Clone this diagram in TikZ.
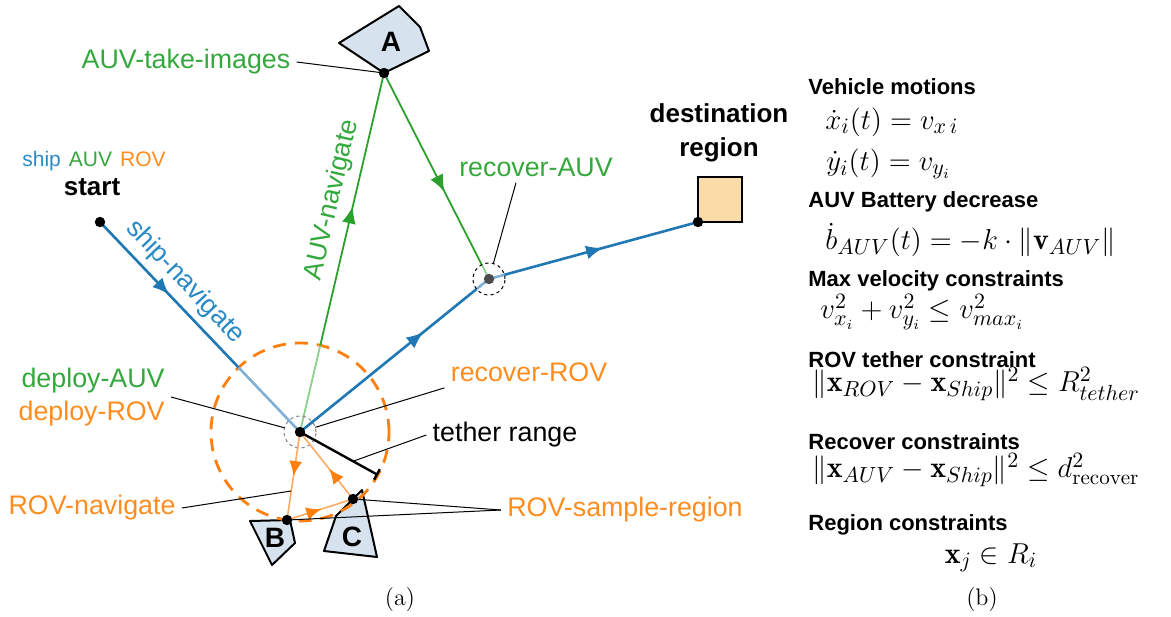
\documentclass[tikz,border=0pt]{standalone}
\usepackage{fontspec}
\usepackage{amsmath}
\newfontfamily\helv{Liberation Sans}
\usetikzlibrary{arrows.meta, calc, decorations.markings}

\definecolor{shipblue}{RGB}{31,119,180}
\definecolor{shiplight}{RGB}{128,176,214}
\definecolor{shiptext}{RGB}{42,138,200}
\definecolor{auvgreen}{RGB}{44,160,44}
\definecolor{auvlight}{RGB}{140,208,140}
\definecolor{auvtext}{RGB}{52,168,60}
\definecolor{rovorange}{RGB}{255,127,14}
\definecolor{rovline}{RGB}{255,170,100}
\definecolor{rovtext}{RGB}{255,140,30}
\definecolor{regionfill}{RGB}{214,226,238}
\definecolor{destfill}{RGB}{251,219,166}

\tikzset{
  lbl/.style={font=\helv\fontsize{13.4}{16.5}\selectfont, inner sep=3pt},
  head/.style={font=\helv\bfseries\fontsize{11}{13}\selectfont, anchor=west, inner sep=0pt},
  eqn/.style={font=\fontsize{15}{18}\selectfont, anchor=west, inner sep=0pt},
  regionlbl/.style={font=\helv\bfseries\fontsize{14}{16}\selectfont, inner sep=0pt},
  region/.style={draw=black, line width=1pt, fill=regionfill, line join=round},
  leader/.style={black, line width=0.5pt},
  ship/.style={shipblue, line width=1.3pt},
  auv/.style={auvgreen, line width=0.9pt},
  rov/.style={rovline, line width=0.8pt},
  midarrow/.style={postaction={decorate}, decoration={markings,
      mark=at position #1 with {\arrow{Latex[length=8.5pt,width=7pt]}}}},
  rovarrow/.style={postaction={decorate}, decoration={markings,
      mark=at position #1 with {\arrow[rovorange]{Latex[length=7.5pt,width=6.5pt]}}}},
}

\begin{document}
\begin{tikzpicture}[x=0.5pt, y=-0.5pt]
    \useasboundingbox (0,0) rectangle (1171,616);

    % Waypoints
    \coordinate (start) at (100,222);
    \coordinate (D) at (300,432);
    \coordinate (R) at (489,279);
    \coordinate (dest) at (698,222);
    \coordinate (A) at (384,73);
    \coordinate (B) at (287,520);
    \coordinate (C) at (353,499);
    \coordinate (tetherend) at (378,475);

    % Regions A, B, C and destination
    \draw[region] (339,43) -- (399,6) -- (420,27) -- (429,51) -- (A) -- cycle;
    \draw[region] (250,521) -- (290,520) -- (295,543) -- (272,565) -- cycle;
    \draw[region] (362,490) -- (336,516) -- (324,551) -- (377,557) -- cycle;
    \node[regionlbl] (regA) at (391,42) {A};
    \node[regionlbl] (regB) at (275,538) {B};
    \node[regionlbl] (regC) at (352,537) {C};
    \draw[line width=1pt, fill=destfill] (dest) rectangle (742,177);

    % Tether range circle
    \draw[rovorange, line width=1.4pt, dash pattern=on 6.5pt off 4.5pt] (D) circle[radius=44.5pt];

    % Ship path (lighter near the deploy / recover points)
    \coordinate (shipin) at ($(D)!44.5pt!(start)$);
    \draw[ship, midarrow=0.5] (start) -- (shipin);
    \draw[shiplight, line width=1.3pt] (shipin) -- (D);
    \coordinate (shipR1) at ($(R)!8pt!(D)$);
    \draw[ship, midarrow=0.7] (D) -- (shipR1);
    \draw[shiplight, line width=1.3pt] (shipR1) -- (R);
    \coordinate (shipR2) at ($(R)!8pt!(dest)$);
    \draw[shiplight, line width=1.3pt] (R) -- (shipR2);
    \draw[ship, midarrow=0.51] (shipR2) -- (dest);

    % AUV path
    \coordinate (auvout) at ($(D)!44.5pt!(A)$);
    \draw[auvlight, line width=0.9pt] (D) -- (auvout);
    \draw[auv, midarrow=0.51] (auvout) -- (A);
    \coordinate (auvin) at ($(R)!8pt!(A)$);
    \draw[auv, midarrow=0.62] (A) -- (auvin);
    \draw[auvlight, line width=0.9pt] (auvin) -- (R);

    % Small dashed circles
    \draw[gray, line width=0.5pt, dash pattern=on 1.6pt off 1.6pt] (D) circle[radius=8pt];
    \draw[black, line width=0.5pt, dash pattern=on 1.6pt off 1.6pt] (R) circle[radius=8pt];

    % Tether
    \draw[black, line width=1.2pt, -{Bar[width=6pt]}] (D) -- (tetherend);

    % ROV path
    \draw[rov, rovarrow=0.5] (D) -- (B);
    \draw[rov, rovarrow=0.52] (B) -- (C);
    \draw[rov, rovarrow=0.45] (C) -- (D);

    % Labels with leader lines
    \node[lbl, text=auvtext] (takeimg) at (186,62) {AUV-take-images};
    \draw[leader] (takeimg.east) -- (A);

    \node[lbl, text=auvtext] (recAUV) at (536,167) {recover-AUV};
    \coordinate (recAUVfoot) at ([xshift=-10pt]recAUV.south);
    \draw[leader] (recAUVfoot) -- ($(R)!8pt!(recAUVfoot)$);

    \node[lbl, align=right, anchor=east] (deploy) at (171,397)
        {\textcolor{auvtext}{deploy-AUV}\\\textcolor{rovtext}{deploy-ROV}};
    \draw[leader] (deploy.east) -- ($(D)!8pt!(deploy.east)$);

    \node[lbl, text=rovtext] (recROV) at (529,372) {recover-ROV};
    \draw[leader] (recROV.south west) -- ($(D)!8pt!(recROV.south west)$);

    \node[lbl] (tether) at (505,435) {tether range};
    \draw[leader] (tether.west) -- ($(D)!0.68!(tetherend)$);

    \node[lbl, text=rovtext] (rovnav) at (92,508) {ROV-navigate};
    \draw[leader] (rovnav.east) -- ($(D)!0.67!(B)$);

    \node[lbl, text=rovtext] (sample) at (625,510) {ROV-sample-region};
    \draw[leader] (sample.west) -- (C);
    \draw[leader] (sample.west) -- (B);

    % Path labels
    \node[lbl, text=shiptext, rotate=-46.4] (shipnav) at (185,282) {ship-navigate};
    \node[lbl, text=auvtext, rotate=76.8] (auvnav) at (332,200) {AUV-navigate};

    % Legend, start and destination
    \node[font=\helv\fontsize{10.5}{12}\selectfont] (legend) at (94,161)
        {\textcolor{shiptext}{ship}\hspace{4pt}\textcolor{auvtext}{AUV}\hspace{4pt}\textcolor{rovtext}{ROV}};
    \node[font=\helv\bfseries\fontsize{13}{16}\selectfont] (startlbl) at (92,187) {start};
    \node[font=\helv\bfseries\fontsize{13}{17}\selectfont, align=center] (destlbl) at (719,133)
        {destination\\region};

    % Waypoint dots
    \fill (start) circle[radius=2.6pt];
    \fill (D) circle[radius=2.6pt];
    \fill[black!70] (R) circle[radius=2.6pt];
    \fill (dest) circle[radius=2.6pt];
    \fill (A) circle[radius=2.6pt];
    \fill (B) circle[radius=2.6pt];
    \fill (C) circle[radius=2.6pt];

    % Constraints (b)
    \node[head] (h1) at (808,87) {Vehicle motions};
    \node[eqn] (e1) at (825,122) {$\dot{x}_i(t) = v_{x\,i}$};
    \node[eqn] (e2) at (826,164) {$\dot{y}_i(t) = v_{y_i}$};
    \node[head] (h2) at (808,202) {AUV Battery decrease};
    \node[eqn] (e3) at (825,240) {$\dot{b}_{AUV}(t) = -k \cdot \|\mathbf{v}_{AUV}\|$};
    \node[head] (h3) at (808,281) {Max velocity constraints};
    \node[eqn] (e4) at (820,312) {$v_{x_i}^2 + v_{y_i}^2 \leq v_{max_i}^2$};
    \node[head] (h4) at (808,360) {ROV tether constraint};
    \node[eqn] (e5) at (812,384) {$\|\mathbf{x}_{ROV} - \mathbf{x}_{Ship}\|^2 \leq R_{tether}^2$};
    \node[head] (h5) at (808,442) {Recover constraints};
    \node[eqn] (e6) at (812,470) {$\|\mathbf{x}_{AUV} - \mathbf{x}_{Ship}\|^2 \leq d_{\mathrm{recover}}^2$};
    \node[head] (h6) at (808,525) {Region constraints};
    \node[eqn, anchor=center] (e7) at (991,558) {$\mathbf{x}_j \in R_i$};

    % Captions
    \node[font=\fontsize{12}{14}\selectfont] (capa) at (400,599) {(a)};
    \node[font=\fontsize{12}{14}\selectfont] (capb) at (982,599) {(b)};
\end{tikzpicture}
\end{document}
